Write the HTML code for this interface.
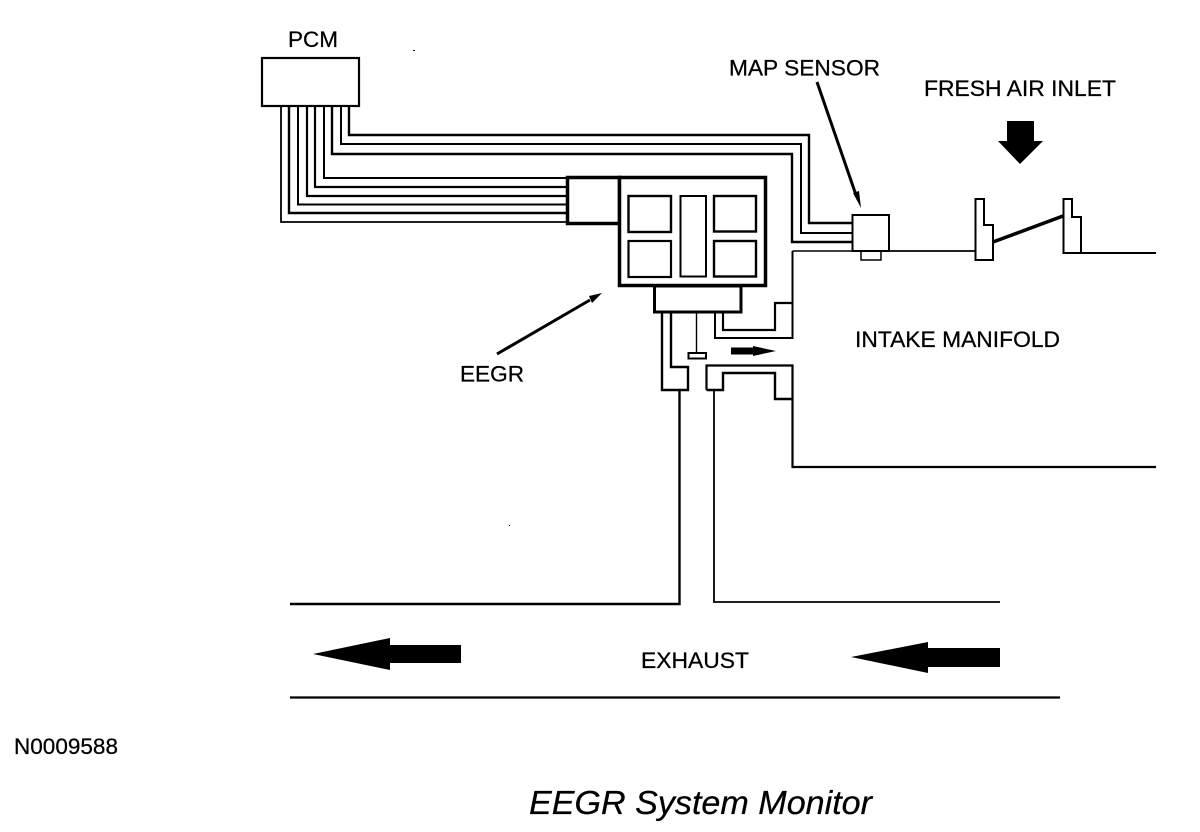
<!DOCTYPE html>
<html>
<head>
<meta charset="utf-8">
<style>
html,body{margin:0;padding:0;background:#fff;width:1200px;height:832px;overflow:hidden}
svg{display:block}
text{font-family:"Liberation Sans",Arial,sans-serif;fill:#000;font-size:22.500px;stroke:#000;stroke-width:.25px}
.l{fill:none;stroke:#000}
</style>
</head>
<body>
<svg width="1200" height="832" viewBox="0 0 1200 832" xmlns="http://www.w3.org/2000/svg">
<rect width="1200" height="832" fill="#fff"/>
<g class="l" fill="none" stroke="#000">
  <!-- PCM -->
  <rect x="262" y="58" width="97" height="48" stroke-width="2.200"/>
  <!-- Wires to EEGR -->
  <path d="M281 106V222H567" stroke-width="1.800"/>
  <path d="M289 106V213H567" stroke-width="2.400"/>
  <path d="M298 106V204.500H567" stroke-width="2"/>
  <path d="M307 106V196H567" stroke-width="2.200"/>
  <path d="M315 106V187H567" stroke-width="2.200"/>
  <path d="M324 106V178H567" stroke-width="2"/>
  <!-- Wires to MAP -->
  <path d="M332 106V154H792V242H852" stroke-width="2.400"/>
  <path d="M341 106V144H801V233H852" stroke-width="2"/>
  <path d="M349 106V135H809V223H852" stroke-width="2.400"/>
  <!-- EEGR -->
  <rect x="567.500" y="177.500" width="52" height="46" stroke-width="3.500"/>
  <rect x="619.500" y="177.500" width="146" height="108" stroke-width="3.500" fill="#fff"/>
  <rect x="628.500" y="196" width="42.500" height="36" stroke-width="2.400"/>
  <rect x="628.500" y="241" width="42.500" height="36" stroke-width="2.200"/>
  <rect x="680.500" y="196" width="25.500" height="80.500" stroke-width="2"/>
  <rect x="714" y="196" width="42" height="35.500" stroke-width="2.400"/>
  <rect x="714" y="241" width="42" height="35.500" stroke-width="2.400"/>
  <rect x="654.500" y="286" width="86.500" height="26" stroke-width="3"/>
  <!-- Left pipe -->
  <path d="M662 312V390H688V367H671V312" stroke-width="2.400"/>
  <path d="M679.500 390V604H290" stroke-width="2.400"/>
  <!-- Valve pintle -->
  <path d="M696.500 312V353" stroke-width="1.400"/>
  <rect x="688.500" y="353" width="17.500" height="5.500" stroke-width="2"/>
  <!-- MAP vacuum passage -->
  <path d="M715 312V338H792.500V251" stroke-width="2"/>
  <path d="M723 312V330H775V303H792" stroke-width="2.200"/>
  <!-- Manifold -->
  <path d="M792.500 251H975" stroke-width="1.600"/>
  <path d="M706.500 390V365.500H792.500V467H1156" stroke-width="2.200"/>
  <path d="M706.500 390H723V373H775V399H792" stroke-width="2.400"/>
  <path d="M714 390V602H1000" stroke-width="1.800"/>
  <path d="M290 697.500H1060" stroke-width="2.200"/>
  <!-- MAP sensor -->
  <rect x="852.500" y="215" width="36.500" height="36" stroke-width="2" fill="#fff"/>
  <rect x="861" y="251" width="20" height="9" stroke-width="1.500"/>
  <path d="M889 251H975" stroke-width="1.600"/>
  <!-- Throttle -->
  <path d="M975.500 199H984V225H993V260H975.500Z" stroke-width="2"/>
  <path d="M1063.500 199H1072V217H1081V253H1063.500Z" stroke-width="2"/>
  <path d="M1081 253H1156" stroke-width="2"/>
  <path d="M993 242L1063 216" stroke-width="3.500"/>
</g>
<!-- Leader arrows -->
<path d="M817 82L856 195" stroke="#000" stroke-width="3" fill="none"/>
<polygon points="861,208 853,193 859,191" fill="#000"/>
<path d="M497 354L590 300" stroke="#000" stroke-width="3" fill="none"/>
<polygon points="602,293 589,296 592,303" fill="#000"/>
<!-- Flow arrows -->
<polygon points="731,347.500 753,347.500 753,346 776,351 753,356 753,354.500 731,354.500" fill="#000"/>
<polygon points="1007,121 1034,121 1034,141 1043,141 1020,164 998,141 1007,141" fill="#000"/>
<polygon points="461,645 390,645 390,638 313,654 390,670 390,663 461,663" fill="#000"/>
<polygon points="1000,648 928,648 928,642 851,657 928,673 928,667 1000,667" fill="#000"/>
<!-- specks -->
<rect x="413" y="50" width="2" height="1" fill="#000"/>
<rect x="509" y="525" width="1" height="1" fill="#000"/>
<!-- Labels -->
<text x="288" y="47" textLength="50" lengthAdjust="spacingAndGlyphs">PCM</text>
<text x="729" y="75.500" textLength="151" lengthAdjust="spacingAndGlyphs">MAP SENSOR</text>
<text x="924" y="96" textLength="192" lengthAdjust="spacingAndGlyphs">FRESH AIR INLET</text>
<text x="855" y="347" textLength="205" lengthAdjust="spacingAndGlyphs">INTAKE MANIFOLD</text>
<text x="460" y="381.500" textLength="64" lengthAdjust="spacingAndGlyphs">EEGR</text>
<text x="641" y="668" textLength="108" lengthAdjust="spacingAndGlyphs">EXHAUST</text>
<text x="14" y="754" style="font-size:22px" textLength="104" lengthAdjust="spacingAndGlyphs">N0009588</text>
<text x="529" y="814" style="font-size:33.500px;font-style:italic" textLength="343" lengthAdjust="spacingAndGlyphs">EEGR System Monitor</text>
</svg>
</body>
</html>
